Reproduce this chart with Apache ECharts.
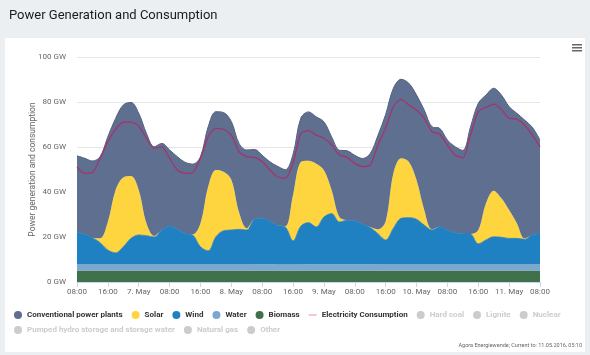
<!DOCTYPE html>
<html>
<head>
<meta charset="utf-8">
<script src="https://cdn.jsdelivr.net/npm/echarts@6/dist/echarts.min.js"></script>
<style>
  html, body { margin: 0; padding: 0; background: #eceff1; }
  #card { position: absolute; left: 5px; top: 38px; width: 580px; height: 314px; background: #ffffff; }
  #chart { position: absolute; left: 0; top: 0; width: 590px; height: 355px; }
</style>
</head>
<body>
<div id="card"></div>
<div id="chart"></div>
<script>
// ---- data (2-hour steps, 6 May 08:00 -> 11 May 08:00) ----
const tickLabels = ['08:00','16:00','7. May','08:00','16:00','8. May','08:00','16:00','9. May','08:00','16:00','10. May','08:00','16:00','11. May','08:00'];

const categories = [];
for (let i = 0; i < 61; i++) {
  const t = 8 + i * 2;
  const day = 6 + Math.floor(t / 24);
  const hh = String(t % 24).padStart(2, '0');
  categories.push(day + '. May ' + hh + ':00');
}

const biomass = [5.1,5.1,5.1,5.1,5.1,5.1,5.1,5.1,5.1,5.1,5.1,5.1,5.1,5.1,5.1,5.1,5.1,5.1,5.1,5.1,5.1,5.1,5.1,5.1,5.1,5.1,5.1,5.1,5.1,5.1,5.1,5.1,5.1,5.1,5.1,5.1,5.1,5.1,5.1,5.1,5.1,5.1,5.1,5.1,5.1,5.1,5.1,5.1,5.1,5.1,5.1,5.1,5.1,5.1,5.1,5.1,5.1,5.1,5.1,5.1,5.1];
const water = [2.9,2.9,2.9,2.9,2.9,2.9,2.9,2.9,2.9,2.9,2.9,2.9,2.9,2.9,2.9,2.9,2.9,2.9,2.9,2.9,2.9,2.9,2.9,2.8,2.8,2.8,2.7,2.7,2.7,2.7,2.8,2.8,2.8,2.8,2.8,2.8,2.8,2.8,2.8,2.8,2.9,2.9,2.9,2.9,2.9,2.9,2.9,2.9,2.9,2.9,2.9,2.9,2.9,2.9,2.9,2.9,2.9,2.9,2.9,2.9,2.9];
const wind = [14.1,13.2,11.7,9.5,6.2,5.0,7.7,11.4,12.9,12.6,12.0,15.1,16.9,15.4,13.6,12.9,7.7,5.9,12.1,14.8,15.1,15.4,15.1,20.0,20.3,19.1,17.3,16.6,10.5,17.0,18.5,16.6,21.0,22.5,18.8,19.6,19.3,17.8,16.3,13.6,10.7,15.9,20.3,20.6,19.9,17.3,15.1,16.6,15.1,13.9,13.6,13.3,9.0,10.7,12.1,11.9,11.4,11.4,11.0,12.9,13.6];
const solar = [0,0,0,2.0,12.6,27.9,30.8,27.7,20.0,5.5,0.5,0,0,0,0,0.3,10.4,28.5,29.7,26.2,22.4,7.6,0.8,0,0,0,0,0.4,20.5,28.5,27.5,28.1,20.8,10.4,2.2,0,0,0,0.2,1.9,8.3,24.4,26.7,24.9,17.4,6.7,0.3,0,0,0,0,0,6.1,16.3,20.5,17.3,12.6,6.7,0.4,0,0];
const conventional = [34.0,33.8,34.1,36.2,37.8,31.8,32.2,32.7,34.1,40.0,39.6,38.5,33.8,32.3,31.6,31.2,29.6,26.6,25.9,26.3,25.8,30.6,34.8,31.0,28.1,26.4,26.3,25.1,18.0,19.5,21.7,20.8,21.5,23.7,29.7,30.8,29.1,29.2,32.7,41.8,47.5,37.8,35.1,34.8,37.8,44.4,45.6,43.7,40.0,38.2,36.9,47.7,56.3,48.1,45.5,45.9,45.9,48.9,52.6,47.9,41.5];
const consumption = [51.0,48.3,48.7,55.0,62.4,67.9,71.0,71.1,69.3,63.9,59.4,60.1,55.0,49.8,48.3,48.7,55.0,64.6,68.3,67.9,65.3,57.9,55.7,55.4,53.5,49.8,46.8,46.1,53.0,66.0,67.3,65.3,63.9,60.9,56.4,55.4,52.7,51.3,52.0,60.9,68.5,77.9,81.2,78.7,76.4,72.7,66.8,65.8,60.9,56.4,55.2,65.3,75.7,77.6,79.1,76.7,72.7,72.4,69.8,65.3,60.1];

const hiddenNames = ['Hard coal','Lignite','Nuclear','Pumped hydro storage and storage water','Natural gas','Other'];

const FONT = "Roboto, sans-serif";

function areaSeries(name, data, color, lineColor, lineWidth) {
  return {
    name: name, type: 'line', stack: 'gen', data: data,
    smooth: 0.35, showSymbol: false, symbol: 'none',
    lineStyle: { width: lineWidth, color: lineColor || color },
    itemStyle: { color: color },
    areaStyle: { color: color, opacity: 1 },
    emphasis: { disabled: true }
  };
}

const series = [
  areaSeries('Biomass', biomass, '#3f714a', null, 0),
  areaSeries('Water', water, '#7aa8d0', null, 0),
  areaSeries('Wind', wind, '#1f81c2', '#2a7fbc', 0.8),
  areaSeries('Solar', solar, '#fed53f', null, 0),
  areaSeries('Conventional power plants', conventional, '#5f6f8f', '#52617f', 1),
  {
    name: 'Electricity Consumption', type: 'line', data: consumption,
    smooth: 0.25, showSymbol: false, symbol: 'none', z: 5,
    lineStyle: { width: 1.3, color: '#a3346f' },
    itemStyle: { color: '#e58ab8' },
    emphasis: { disabled: true }
  }
];
hiddenNames.forEach(n => series.push({ name: n, type: 'line', data: [], itemStyle: { color: '#999' } }));

const selected = {};
hiddenNames.forEach(n => selected[n] = false);

const legendText = { fontSize: 8, fontWeight: 'bold', color: '#333', fontFamily: FONT };
const lineIcon = 'path://M0,0L0,0M10,10L10,10M0,4.4H10V5.6H0Z';

const option = {
  animation: false,
  title: {
    text: 'Power Generation and Consumption', left: 4, top: 4,
    textStyle: { fontSize: 13, fontWeight: 'normal', color: '#1b1b1b', fontFamily: FONT }
  },
  legend: [
    {
      left: 9, top: 306, width: 578, itemWidth: 8, itemHeight: 8, itemGap: 9, icon: 'circle',
      inactiveColor: '#cccccc', textStyle: legendText, selected: selected,
      data: ['Conventional power plants','Solar','Wind','Water','Biomass',
             { name: 'Electricity Consumption', icon: lineIcon, itemStyle: { color: '#e58ab8' } },
             'Hard coal','Lignite','Nuclear']
    },
    {
      left: 9, top: 321, width: 578, itemWidth: 8, itemHeight: 8, itemGap: 9, icon: 'circle',
      inactiveColor: '#cccccc', textStyle: legendText, selected: selected,
      data: ['Pumped hydro storage and storage water','Natural gas','Other']
    }
  ],
  grid: { left: 77, right: 50, top: 57, bottom: 73 },
  xAxis: {
    type: 'category', data: categories, boundaryGap: false,
    axisLine: { lineStyle: { color: '#ccd6eb' } },
    axisTick: { interval: 3, length: 5, lineStyle: { color: '#ccd6eb' } },
    axisLabel: {
      interval: 3, fontSize: 8, color: '#666', margin: 6, fontFamily: FONT,
      formatter: (v, i) => tickLabels[Math.round(i / 4)]
    },
    splitLine: { show: false }
  },
  yAxis: {
    type: 'value', min: 0, max: 100, interval: 20,
    name: 'Power generation and consumption', nameLocation: 'middle', nameGap: 40,
    nameMoveOverlap: false,
    nameTextStyle: { fontSize: 8.5, color: '#666', fontFamily: FONT },
    axisLine: { show: false }, axisTick: { show: false },
    axisLabel: { fontSize: 8, color: '#666', margin: 11, formatter: '{value} GW', fontFamily: FONT },
    splitLine: { lineStyle: { color: '#e6e6e6', width: 1 } }
  },
  graphic: [
    { type: 'rect', shape: { x: 572, y: 44, width: 10, height: 1.5 }, style: { fill: '#666' } },
    { type: 'rect', shape: { x: 572, y: 47, width: 10, height: 1.5 }, style: { fill: '#666' } },
    { type: 'rect', shape: { x: 572, y: 50, width: 10, height: 1.5 }, style: { fill: '#666' } },
    { type: 'text', right: 8, top: 343,
      style: { text: 'Agora Energiewende; Current to: 11.05.2016, 05:10', fontSize: 5.5, fill: '#666', fontFamily: FONT } }
  ],
  series: series
};

const chart = echarts.init(document.getElementById('chart'), null, { renderer: 'canvas' });
chart.setOption(option);
</script>
</body>
</html>
